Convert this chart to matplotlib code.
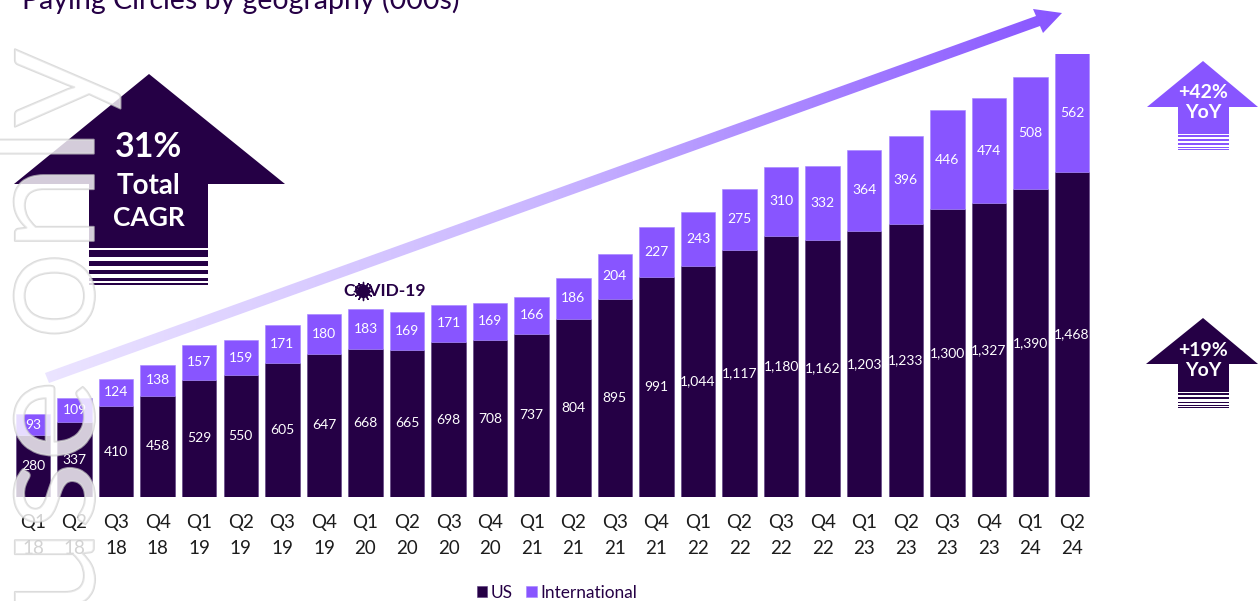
import numpy as np
import matplotlib
matplotlib.use('Agg')
import matplotlib.pyplot as plt
import matplotlib.patheffects as pe
from matplotlib.colors import LinearSegmentedColormap
from matplotlib.patches import Polygon, Rectangle

plt.rcParams['font.family'] = ['Lato', 'DejaVu Sans']

quarters = ['Q1', 'Q2', 'Q3', 'Q4', 'Q1', 'Q2', 'Q3', 'Q4', 'Q1', 'Q2', 'Q3', 'Q4', 'Q1',
            'Q2', 'Q3', 'Q4', 'Q1', 'Q2', 'Q3', 'Q4', 'Q1', 'Q2', 'Q3', 'Q4', 'Q1', 'Q2']
years = ['18', '18', '18', '18', '19', '19', '19', '19', '20', '20', '20', '20', '21',
         '21', '21', '21', '22', '22', '22', '22', '23', '23', '23', '23', '24', '24']
us = [280, 337, 410, 458, 529, 550, 605, 647, 668, 665, 698, 708, 737,
      804, 895, 991, 1044, 1117, 1180, 1162, 1203, 1233, 1300, 1327, 1390, 1468]
international = [93, 109, 124, 138, 157, 159, 171, 180, 183, 169, 171, 169, 166,
                 186, 204, 227, 243, 275, 310, 332, 364, 396, 446, 474, 508, 562]

DARK = '#250045'
PURPLE = '#8855ff'
W, H = 1258, 601

fig = plt.figure(figsize=(W / 100, H / 100), dpi=100)

# bars: bar 0 at px 33, baseline at px 497, y axis stops at 2000 so the last bar is cut like the original
step = 41.56
ax = fig.add_axes([12 / W, (H - 497) / H, (1093 - 12) / W, 443 / H])
x = np.arange(len(us))
us_bars = ax.bar(x, us, width=0.83, color=DARK, edgecolor='#5a3a80', linewidth=0.4, label='US')
intl_bars = ax.bar(x, international, width=0.83, bottom=us, color=PURPLE,
                   edgecolor='#a585ff', linewidth=0.4, label='International')
ax.bar_label(us_bars, fmt='{:,.0f}', label_type='center', color='white', fontsize=10)
ax.bar_label(intl_bars, fmt='{:,.0f}', label_type='center', color='white', fontsize=10)
ax.set_xlim((12 - 33) / step, (1093 - 33) / step)
ax.set_ylim(0, 2000)
ax.set_xticks(x)
ax.set_xticklabels([f'{q}\n{y}' for q, y in zip(quarters, years)], fontsize=13.5,
                   color='#1c1c1c', linespacing=1.65)
ax.tick_params(axis='x', length=0, pad=12)
ax.set_yticks([])
for s in ax.spines.values():
    s.set_visible(False)
ax.patch.set_alpha(0)

ax.legend(loc='center', bbox_to_anchor=(557 / W, (H - 593) / H), bbox_transform=fig.transFigure,
          ncol=2, frameon=False, fontsize=12.4, handlelength=0.6, handleheight=0.6,
          handletextpad=0.2, columnspacing=0.8, labelcolor=DARK, borderpad=0)

# everything else is drawn in pixel coordinates
over = fig.add_axes([0, 0, 1, 1])
over.set_xlim(0, W)
over.set_ylim(H, 0)
over.axis('off')
over.patch.set_alpha(0)

over.text(22, 9, 'Paying Circles by geography (000s)', fontsize=20.5, color=DARK,
          ha='left', va='baseline', clip_on=False)


def block_arrow(tip, left, right, sx0, sx1, shaft_bottom, stripes, color):
    pts = [(tip[0], tip[1]), (right, left[1]), (sx1, left[1]), (sx1, shaft_bottom),
           (sx0, shaft_bottom), (sx0, left[1]), (left[0], left[1])]
    over.add_patch(Polygon(pts, closed=True, fc=color, ec='none', zorder=3))
    for y0, y1 in stripes:
        over.add_patch(Rectangle((sx0, y0), sx1 - sx0, y1 - y0, fc=color, ec='none', zorder=3))


block_arrow((149, 74), (14, 184), 285, 89, 208, 248,
            [(250, 257), (261, 266), (270, 274), (278, 281), (283, 285)], DARK)
block_arrow((1203, 61), (1147, 107), 1258, 1178, 1229, 134,
            [(135, 137), (139, 141), (143, 145), (147, 148), (149, 150)], PURPLE)
block_arrow((1203, 318), (1146, 364), 1258, 1178, 1229, 392,
            [(393, 395), (397, 399), (402, 403), (405, 406), (407, 408)], DARK)

over.text(148.5, 147, '31%', color='white', fontsize=24.5, fontweight='bold', ha='center', va='center', zorder=4)
over.text(148.5, 186, 'Total', color='white', fontsize=20, fontweight='bold', ha='center', va='center', zorder=4)
over.text(148.5, 218, 'CAGR', color='white', fontsize=19, fontweight='bold', ha='center', va='center', zorder=4)
over.text(1203, 93, '+42%', color='white', fontsize=14, fontweight='bold', ha='center', va='center', zorder=4)
over.text(1203, 112, 'YoY', color='white', fontsize=14, fontweight='bold', ha='center', va='center', zorder=4)
over.text(1203, 351, '+19%', color='white', fontsize=14, fontweight='bold', ha='center', va='center', zorder=4)
over.text(1203, 370, 'YoY', color='white', fontsize=14, fontweight='bold', ha='center', va='center', zorder=4)

# gradient trend arrow
arrow = Polygon([(45, 373), (1036, 16), (1033, 9), (1062, 13), (1043, 33), (1040, 26), (49, 383)],
                closed=True, fc='none', ec='none')
over.add_patch(arrow)
cmap = LinearSegmentedColormap.from_list('trend', ['#ebe4ff', '#c9b5ff', PURPLE])
im = over.imshow(np.linspace(0, 1, 256)[None, :], cmap=cmap, extent=(45, 1062, 383, 9),
                 aspect='auto', zorder=2.5)
im.set_clip_path(arrow)
over.set_xlim(0, W)
over.set_ylim(H, 0)

# covid tag, virus drawn over the O
over.text(385, 291.5, 'COVID-19', color=DARK, fontsize=12.5, fontweight='bold', ha='center', va='center', zorder=4)
over.scatter([363], [291], s=90, color=DARK, zorder=5, linewidths=0)
over.scatter([363], [291], s=170, marker=(12, 2, 0), color=DARK, zorder=5, linewidths=1)

# watermark sits on top of everything
over.text(50, 616, 'use only', rotation=90, fontsize=112, ha='center', va='bottom', zorder=10,
          color=(1, 1, 1, 0.35), clip_on=False,
          path_effects=[pe.Stroke(linewidth=1.5, foreground='#cccccc', alpha=0.7),
                        pe.Normal()])

fig.savefig('out.png', dpi=100)
